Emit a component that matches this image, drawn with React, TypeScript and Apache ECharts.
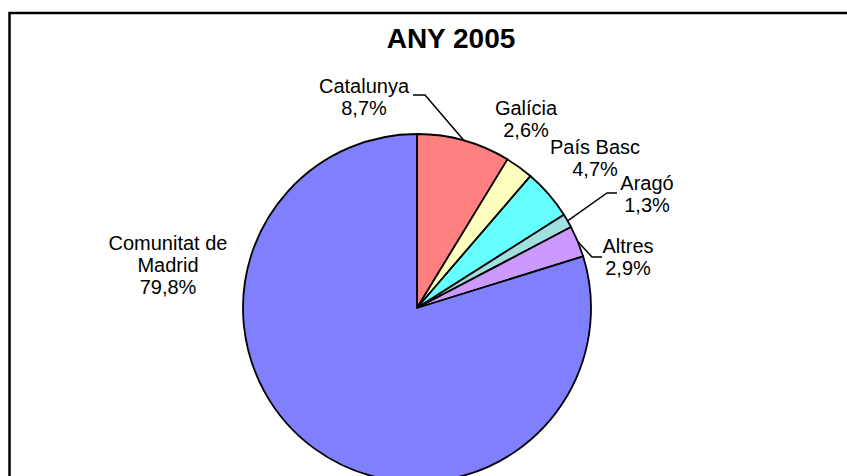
import React, { useEffect, useRef } from "react";
import * as echarts from "echarts";

const titleText = "ANY 2005";
const regions = ["Catalunya", "Galícia", "País Basc", "Aragó", "Altres", "Comunitat de\nMadrid"];
const shares = [8.7, 2.6, 4.7, 1.3, 2.9, 79.8];
const sliceColors = ["#FF8080", "#FFFFC0", "#66FFFF", "#A0E0E0", "#CC99FF", "#8080FF"];

// label placement (positions, not data)
const labelCenters: [number, number][] = [
  [364, 97],
  [526, 119],
  [595, 158],
  [647, 194],
  [628, 257],
  [168, 265],
];
const showLine = [true, false, false, true, true, false];
const lineBends: ([number, number][] | null)[] = [
  [[425, 95], [413, 95]],
  null,
  null,
  [[607, 193], [617, 193]],
  [[592, 257], [602, 257]],
  null,
];

export default function App() {
  const ref = useRef<HTMLDivElement>(null);
  useEffect(() => {
    if (!ref.current) return;
    const chart = echarts.init(ref.current, null, { renderer: "svg" });
    const font = "Liberation Sans, Arial, sans-serif";
    chart.setOption({
      animation: false,
      backgroundColor: "#ffffff",
      graphic: [
        {
          type: "rect",
          z: -1,
          shape: { x: 9.5, y: 13, width: 900, height: 520 },
          style: { fill: "none", stroke: "#000", lineWidth: 2.5 },
        },
        {
          type: "text",
          x: 451,
          y: 38,
          style: {
            text: titleText,
            align: "center",
            verticalAlign: "middle",
            fontFamily: font,
            fontWeight: "bold",
            fontSize: 28,
            fill: "#000",
          },
        },
      ],
      series: [
        {
          type: "pie",
          center: [417, 308],
          radius: 174,
          startAngle: 90,
          clockwise: true,
          avoidLabelOverlap: false,
          emphasis: { disabled: true },
          itemStyle: { borderColor: "#000", borderWidth: 1.8 },
          label: {
            show: true,
            position: "outside",
            color: "#000",
            fontFamily: font,
            fontSize: 20,
            lineHeight: 22,
            align: "center",
            formatter: (p: any) =>
              p.name + "\n" + Number(p.value).toFixed(1).replace(".", ",") + "%",
          },
          labelLine: {
            show: true,
            length: 10,
            length2: 10,
            smooth: false,
            lineStyle: { color: "#000", width: 1.5 },
          },
          labelLayout: (params: any) => {
            const i = params.dataIndex;
            const c = labelCenters[i];
            const out: any = { x: c[0], y: c[1], align: "center", verticalAlign: "middle" };
            const bends = lineBends[i];
            if (bends && params.labelLinePoints && params.labelLinePoints.length) {
              const start = params.labelLinePoints[0];
              out.labelLinePoints = [[start[0], start[1]], bends[0], bends[1]];
            }
            return out;
          },
          data: regions.map((name, i) => ({
            name,
            value: shares[i],
            itemStyle: { color: sliceColors[i] },
            labelLine: { show: showLine[i] },
          })),
        },
      ],
    });
    return () => chart.dispose();
  }, []);
  return (
    <div
      ref={ref}
      style={{ position: "fixed", left: 0, top: 0, width: 847, height: 476 }}
    />
  );
}
